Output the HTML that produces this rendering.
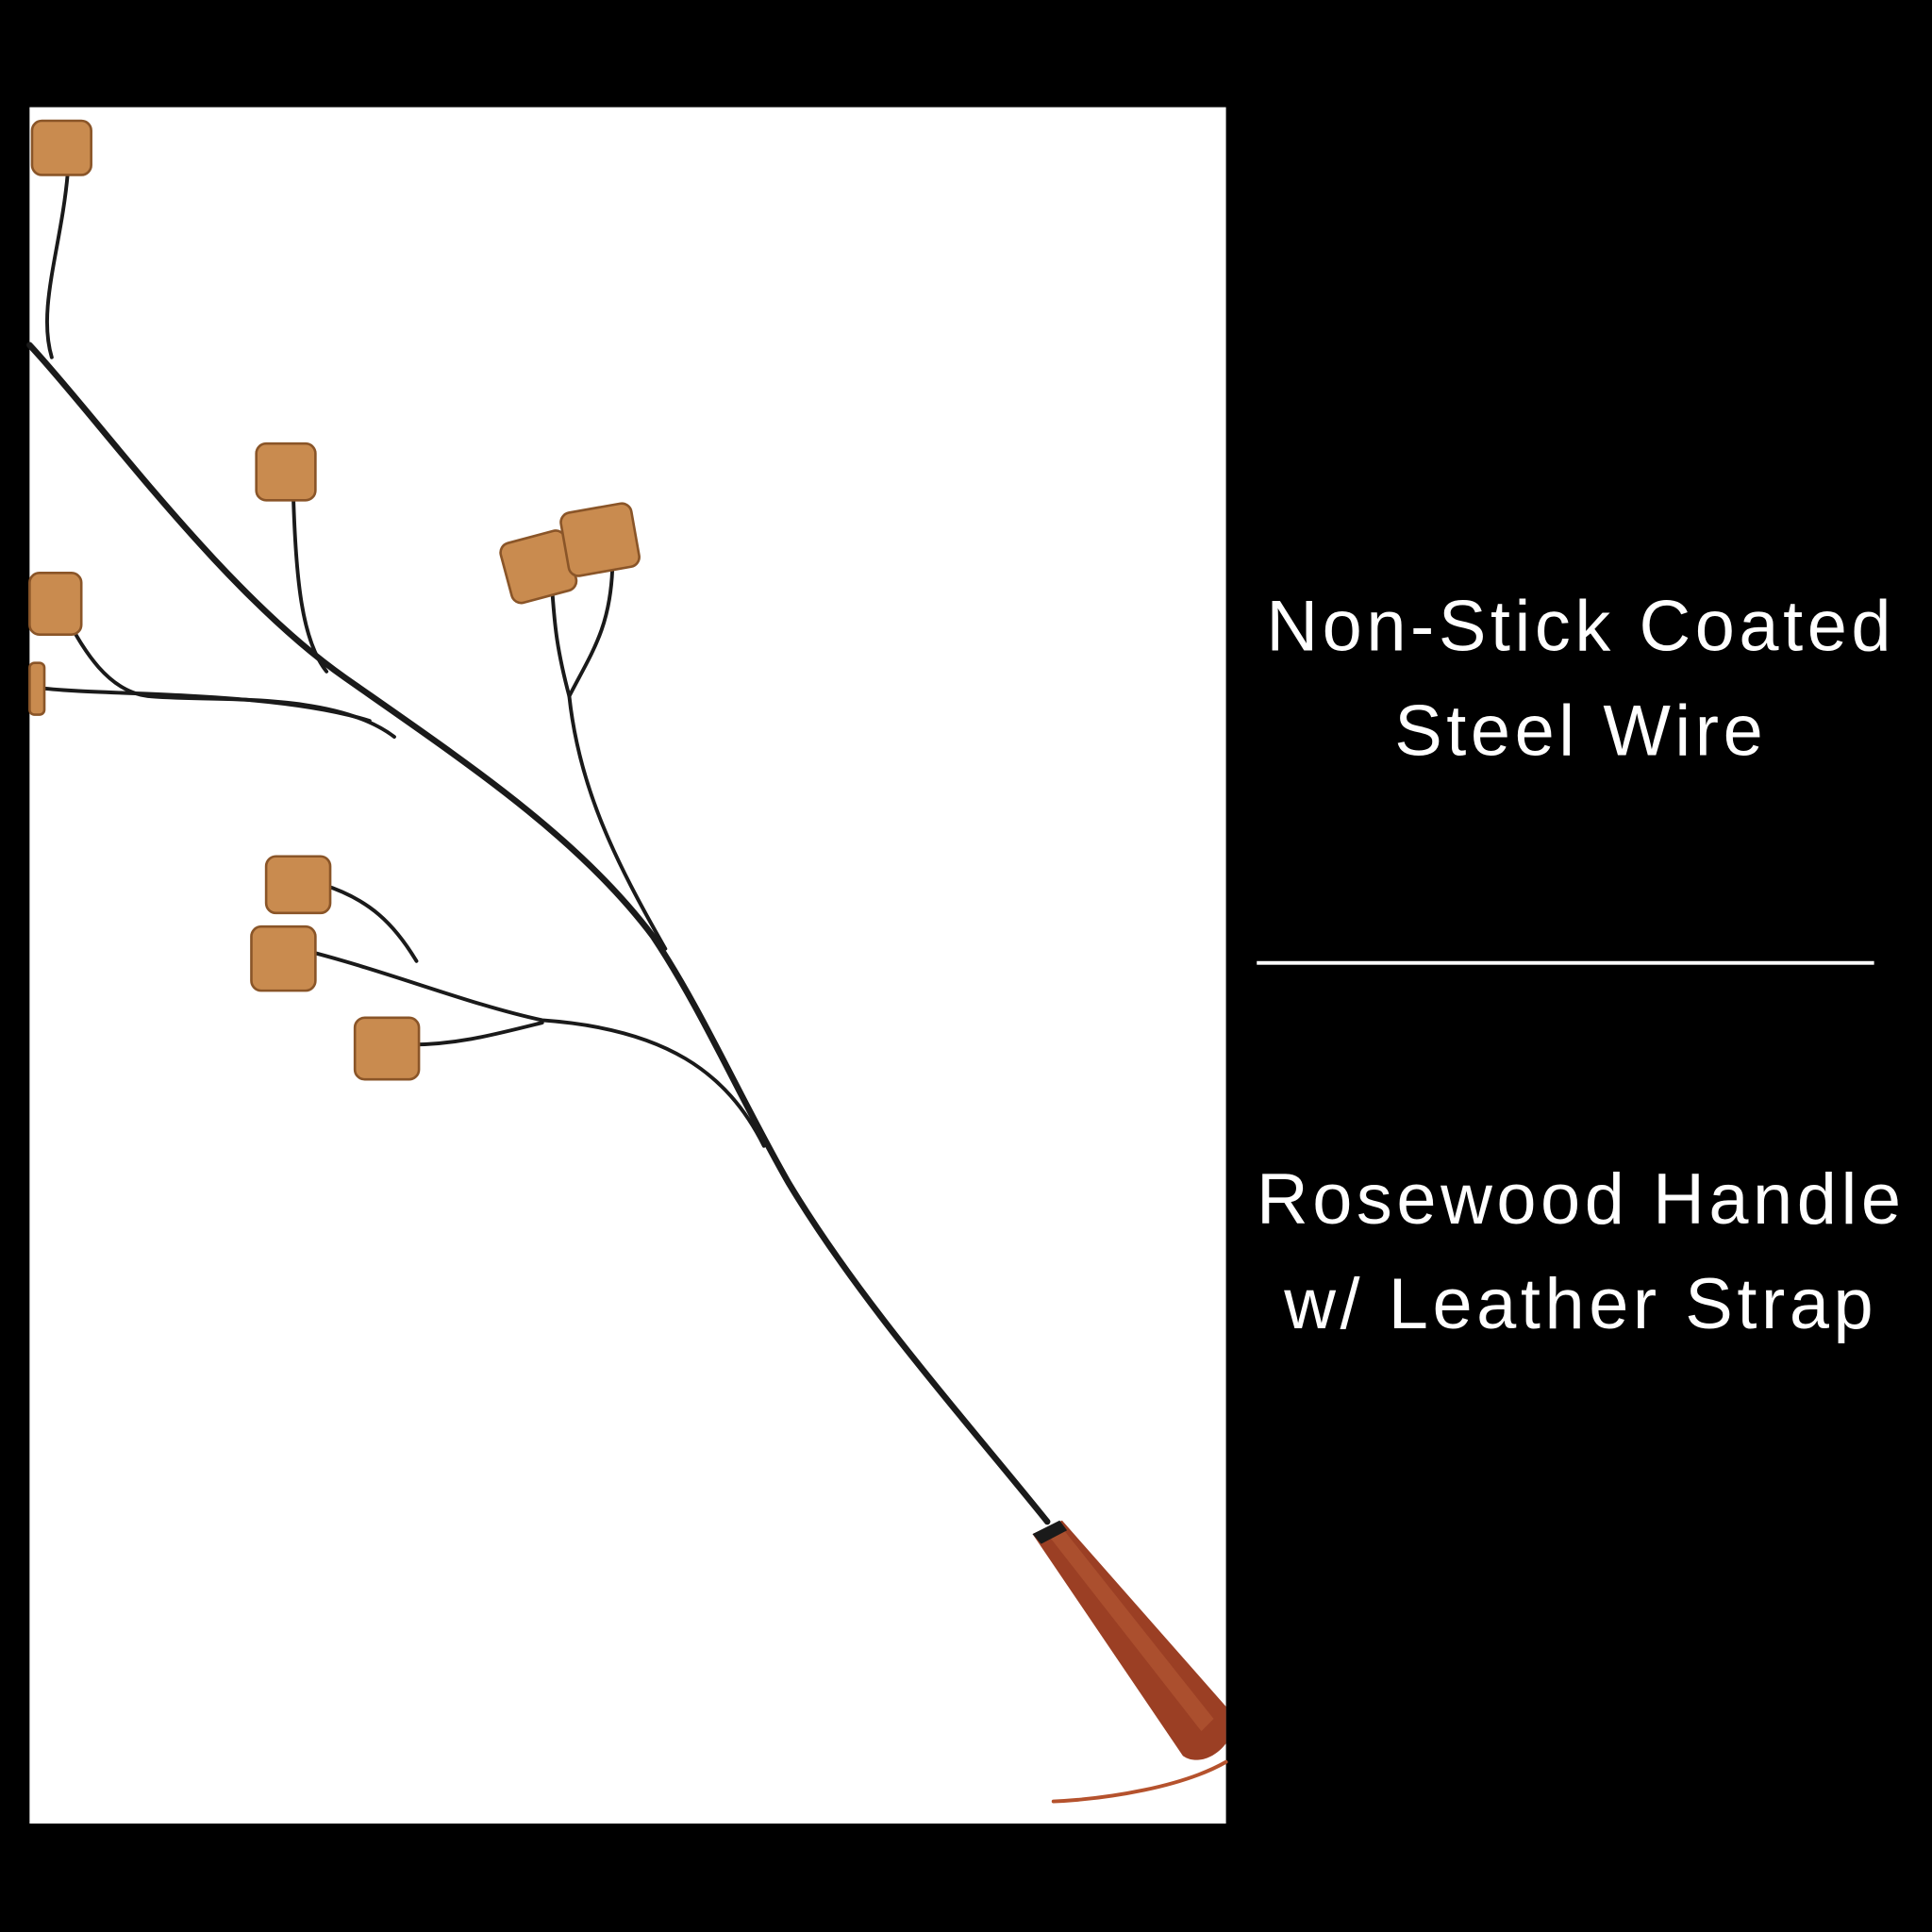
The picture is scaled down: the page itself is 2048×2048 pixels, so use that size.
<!DOCTYPE html>
<html><head><meta charset="utf-8"><style>
html,body{margin:0;padding:0;background:#000;width:2048px;height:2048px;overflow:hidden}
svg{display:block}
</style></head><body>
<svg width="2048" height="2048" viewBox="0 0 1568 1568" xmlns="http://www.w3.org/2000/svg">
<rect width="1568" height="1568" fill="#000"/>
<rect x="24" y="87" width="971" height="1393" fill="#fff"/>
<g fill="none" stroke="#1a1a1a" stroke-linecap="round">
<path d="M24 280 C80 340 180 480 280 550 C380 620 470 680 530 760 C570 820 600 890 640 960 C700 1060 790 1160 850 1235" stroke-width="5"/>
<path d="M42 290 C30 250 50 200 55 140" stroke-width="3"/>
<path d="M265 545 C245 520 240 470 238 400" stroke-width="3"/>
<path d="M320 598 C270 560 170 570 120 565 C80 560 60 510 50 495" stroke-width="3"/>
<path d="M300 585 C220 560 80 565 30 558" stroke-width="3"/>
<path d="M540 770 C500 700 470 640 462 565 C450 520 450 500 448 478" stroke-width="3"/>
<path d="M462 565 C480 530 495 510 497 462" stroke-width="3"/>
<path d="M620 930 C590 870 540 835 440 828 C380 815 320 790 250 772" stroke-width="3"/>
<path d="M338 780 C320 750 300 730 262 718" stroke-width="3"/>
<path d="M440 830 C400 840 370 848 330 848" stroke-width="3"/>
<path d="M995 1430 C960 1450 900 1460 855 1462" stroke="#b5522d" stroke-width="3"/>
</g>
<path d="M838 1245 L862 1234 L995 1385 L995 1415 C985 1428 970 1432 960 1425 Z" fill="#9b3f24"/>
<path d="M850 1245 L862 1240 L985 1395 L975 1405 Z" fill="#b55a35" opacity="0.6"/>
<polygon points="838,1245 860,1234 866,1242 845,1253" fill="#1a1a1a"/>
<g fill="#c98b4f" stroke="#8a5528" stroke-width="2">
<rect x="26" y="98" width="48" height="44" rx="8"/>
<rect x="208" y="360" width="48" height="46" rx="8"/>
<rect x="410" y="435" width="54" height="50" rx="8" transform="rotate(-15 437 460)"/>
<rect x="458" y="412" width="58" height="52" rx="8" transform="rotate(-10 487 438)"/>
<rect x="24" y="465" width="42" height="50" rx="8"/>
<rect x="24" y="538" width="12" height="42" rx="4"/>
<rect x="216" y="695" width="52" height="46" rx="8"/>
<rect x="204" y="752" width="52" height="52" rx="8"/>
<rect x="288" y="826" width="52" height="50" rx="8"/>
</g>
<g fill="#fff" font-family="Liberation Sans, sans-serif" font-size="58" text-anchor="middle" letter-spacing="3.5">
<text x="1283" y="528">Non-Stick Coated</text>
<text x="1283" y="613">Steel Wire</text>
<text x="1283" y="993">Rosewood Handle</text>
<text x="1283" y="1078">w/ Leather Strap</text>
</g>
<rect x="1020" y="780" width="501" height="3" fill="#fff"/>
</svg>
</body></html>
